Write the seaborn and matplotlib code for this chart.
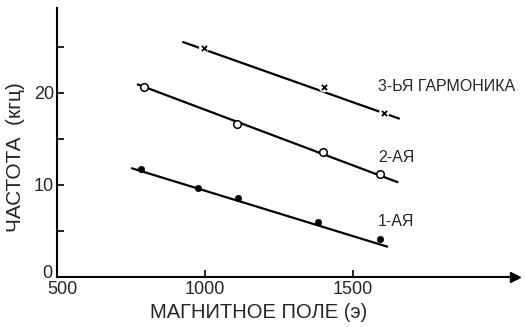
import numpy as np
import pandas as pd
import matplotlib
matplotlib.use("Agg")
import matplotlib.pyplot as plt
import matplotlib.transforms as mtransforms
import seaborn as sns

# data
h1_x = [785, 975, 1110, 1380, 1590]
h1_y = [11.7, 9.7, 8.6, 6.0, 4.1]
h2_x = [795, 1108, 1400, 1590]
h2_y = [20.6, 16.6, 13.6, 11.2]
h3_x = [997, 1402, 1605]
h3_y = [24.9, 20.6, 17.8]

# fitted straight lines (end points)
fit1_x = [753, 1615]
fit1_y = [11.8, 3.3]
fit2_x = [773, 1650]
fit2_y = [20.9, 10.3]
fit3_x = [926, 1655]
fit3_y = [25.5, 17.2]

labels = ["1-АЯ", "2-АЯ", "3-ЬЯ ГАРМОНИКА"]
label_y = [6.0, 13.0, 20.7]

x_ticks = [500, 1000, 1500]
y_major = [0, 10, 20]
y_minor = [5, 15, 25]

sns.set_theme(style="white")
plt.rcParams['font.family'] = ['Liberation Sans Narrow', 'Liberation Sans', 'DejaVu Sans']

fig = plt.figure(figsize=(5.25, 3.27), dpi=100)
ax = fig.add_axes([57/525, 50/327, 458/525, 269/327])
ax.set_xlim(500, 2047)
ax.set_ylim(0, 29.2)

lw = 1.6
for fx, fy in [(fit1_x, fit1_y), (fit2_x, fit2_y), (fit3_x, fit3_y)]:
    sns.lineplot(x=fx, y=fy, ax=ax, color="black", linewidth=lw, zorder=2)

# white gaps round the crosses
sns.scatterplot(x=h3_x, y=h3_y, ax=ax, marker="o", s=55, color="white",
                edgecolor="none", zorder=3)
sns.scatterplot(x=h3_x, y=h3_y, ax=ax, marker="x", s=14, color="black",
                linewidth=1.3, zorder=4)
sns.scatterplot(x=h2_x, y=h2_y, ax=ax, marker="o", s=30, color="white",
                edgecolor="black", linewidth=1.1, zorder=4)
sns.scatterplot(x=h1_x, y=h1_y, ax=ax, marker="o", s=22, color="black",
                edgecolor="black", zorder=4)

for lab, ly in zip(labels, label_y):
    ax.text(1585, ly, lab, fontsize=11.5, ha="left", va="center")

for s in ["top", "right"]:
    ax.spines[s].set_visible(False)
for s in ["left", "bottom"]:
    ax.spines[s].set_color("black")
    ax.spines[s].set_linewidth(1.5)

ax.plot(1, 0, ">", color="black", markersize=7, transform=ax.get_yaxis_transform(),
        clip_on=False)
ax.plot(0, 1, "^", color="black", markersize=7, transform=ax.get_xaxis_transform(),
        clip_on=False)

ax.set_xticks(x_ticks)
ax.set_xticklabels([str(v) for v in x_ticks])
ax.set_yticks(y_major)
ax.set_yticklabels([str(v) for v in y_major])
ax.set_yticks(y_minor, minor=True)
ax.tick_params(axis="both", which="both", direction="in", length=5, width=1.2,
               color="black", labelsize=13, pad=2, left=True, bottom=True)
ax.tick_params(axis="x", pad=3)

# nudge the corner labels apart as in the reference
xl0 = ax.get_xticklabels()[0]
xl0.set_transform(xl0.get_transform() + mtransforms.ScaledTranslation(5/100, 0, fig.dpi_scale_trans))
yl0 = ax.get_yticklabels()[0]
yl0.set_transform(yl0.get_transform() + mtransforms.ScaledTranslation(-2/100, 5/100, fig.dpi_scale_trans))

ax.set_xlabel("МАГНИТНОЕ ПОЛЕ (э)", fontsize=14.5)
ax.xaxis.set_label_coords(202/458, -35/269)
ax.xaxis.label.set_va("center")
ax.set_ylabel("ЧАСТОТА  (кгц)", fontsize=15)
ax.yaxis.set_label_coords(-41/458, 120/269)
ax.yaxis.label.set_va("center")

fig.savefig("out.png", dpi=100)
